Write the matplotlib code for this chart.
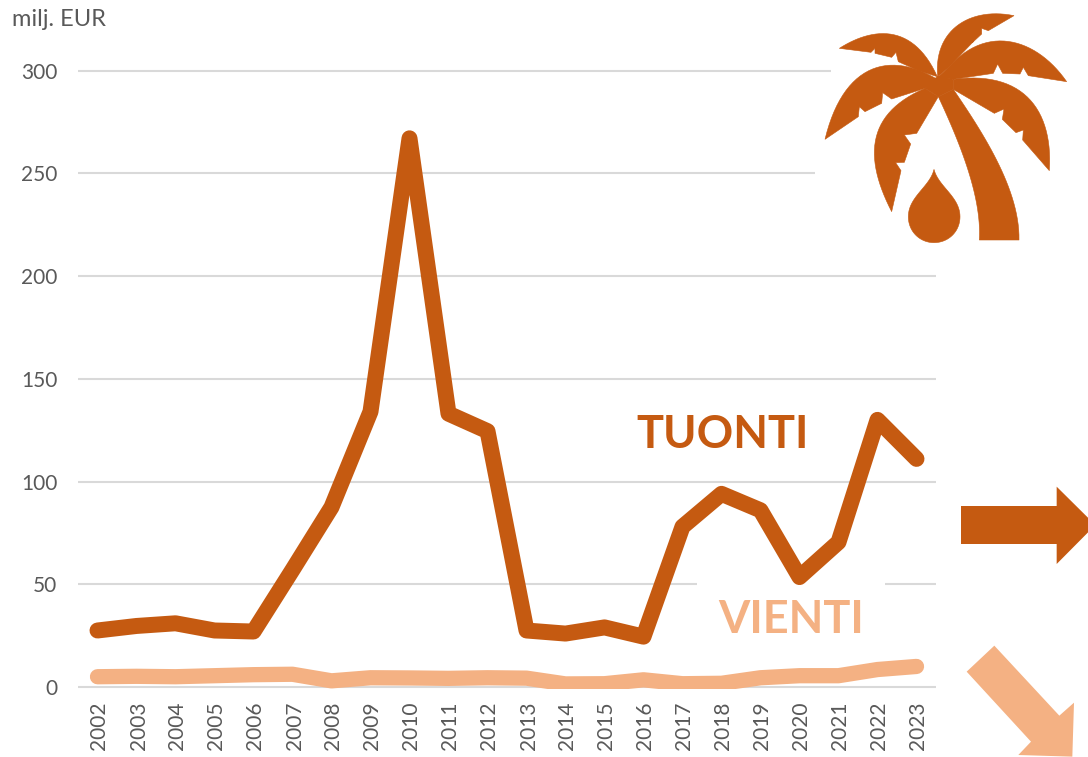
import numpy as np
import matplotlib
matplotlib.use("Agg")
import matplotlib.pyplot as plt
from matplotlib.patches import Polygon, Rectangle
from matplotlib.transforms import Affine2D, ScaledTranslation

years = [str(y) for y in range(2002, 2024)]
tuonti = [27.5, 29.7, 31, 27.5, 27, 57, 87.5, 134, 267, 133, 124.5, 27.5, 26, 29, 24.5, 78, 94, 86, 53.5, 70.5, 130, 111]
vienti = [5, 5.2, 5, 5.5, 6, 6.2, 3, 4.5, 4.4, 4.2, 4.5, 4.3, 1.5, 1.6, 3.5, 1.6, 1.8, 4.5, 5.5, 5.5, 8.5, 10]
yticks = [0, 50, 100, 150, 200, 250, 300]

DARK = "#C55A11"
LIGHT = "#F4B183"
GRID = "#D9D9D9"
TXT = "#595959"
W, H = 1088, 757

plt.rcParams["font.family"] = ["Lato", "DejaVu Sans"]
fig = plt.figure(figsize=(W / 100, H / 100), dpi=100)
ax = fig.add_axes([78 / W, 1 - 688.5 / H, (936 - 78) / W, (688.5 - 70.5) / H])
ppu = (687 - 70.5) / 300
ax.set_xlim(-0.5, 21.5)
ax.set_ylim(-1.5 / ppu, 300)
x = np.arange(len(years))

for s in ax.spines.values():
    s.set_visible(False)
ax.set_yticks(yticks)
ax.set_xticks(x)
ax.set_xticklabels(years, rotation=90)
ax.tick_params(axis="both", length=0, labelcolor=TXT)
ax.tick_params(axis="y", pad=15, labelsize=15)
ax.tick_params(axis="x", pad=9.5, labelsize=15)
ax.grid(axis="y", color=GRID, lw=1.5)
ax.grid(axis="x", visible=False)
ax.set_axisbelow(True)
for line in ax.get_ygridlines():
    line.set_clip_on(False)
    line.set_solid_capstyle("butt")
shift = ScaledTranslation(2 / 100, 0, fig.dpi_scale_trans)
for lab in ax.get_xticklabels():
    lab.set_transform(lab.get_transform() + shift)

px = Affine2D().scale(1 / W, -1 / H).translate(0, 1) + fig.transFigure

# white boxes hiding gridline parts, above the grid but below the lines
for (bx, by, bw, bh) in [(697, 575, 188, 20), (831, 60, 110, 20), (815, 165, 126, 20)]:
    ax.add_patch(Rectangle((bx, by), bw, bh, transform=px, fc="white", ec="none", zorder=2, clip_on=False))

ax.plot(x, vienti, color=LIGHT, lw=11, solid_capstyle="round", solid_joinstyle="round", zorder=3)
ax.plot(x, tuonti, color=DARK, lw=11.5, solid_capstyle="round", solid_joinstyle="round", zorder=4)

top = fig.add_axes([0, 0, 1, 1], facecolor="none")
top.set_xlim(0, W)
top.set_ylim(H, 0)
top.axis("off")
top.set_zorder(2)

top.text(12, 19, "milj. EUR", fontsize=17, color=TXT, ha="left", va="center")
top.text(723, 435, "TUONTI", fontsize=32.5, fontweight="bold", color=DARK, ha="center", va="center")
top.text(791, 620, "VIENTI", fontsize=32.5, fontweight="bold", color=LIGHT, ha="center", va="center")


def bez(p0, c1, c2, p3, n=30):
    t = np.linspace(0, 1, n)[:, None]
    p0, c1, c2, p3 = map(lambda v: np.array(v, float), (p0, c1, c2, p3))
    return (1 - t) ** 3 * p0 + 3 * (1 - t) ** 2 * t * c1 + 3 * (1 - t) * t ** 2 * c2 + t ** 3 * p3


def icon(*parts):
    pts = np.vstack([np.atleast_2d(np.array(p, float)) for p in parts]) / 3 + np.array([810, 0])
    top.add_patch(Polygon(pts, closed=True, fc=DARK, ec=DARK, lw=0.4, zorder=3))


icon(bez((88, 145), (190, 80), (310, 70), (382, 230)),
     [(325, 212), (265, 185), (258, 157), (245, 172), (195, 160), (195, 145), (183, 157)])
icon(bez((45, 418), (100, 190), (240, 150), (385, 240)),
     [(345, 265), (245, 297), (218, 278), (215, 310), (165, 335), (148, 320), (145, 350)])
icon(bez((245, 635), (160, 470), (170, 340), (345, 265)),
     [(385, 290), (320, 400), (283, 405), (302, 432), (283, 487), (257, 488), (273, 512)])
icon(bez((612, 47), (480, 20), (370, 90), (383, 230)),
     [(415, 203), (490, 125), (465, 118), (487, 128), (515, 102), (515, 85), (535, 92)])
icon(bez((770, 245), (680, 115), (530, 70), (415, 203)),
     [(383, 232), (430, 238), (550, 220), (563, 192), (578, 220), (630, 222), (640, 202), (655, 227)])
icon(bez((718, 512), (730, 330), (640, 210), (430, 238)),
     [(430, 268), (553, 340), (582, 327), (577, 358), (618, 398), (640, 390), (638, 420)])
icon([(345, 265), (383, 228), (430, 238), (430, 268), (385, 290)])
icon(bez((430, 268), (520, 400), (630, 570), (627, 720)),
     bez((508, 720), (515, 600), (460, 450), (385, 290)))
icon(bez((372, 508), (385, 560), (450, 590), (450, 650)),
     bez((450, 650), (450, 695), (415, 728), (372, 728)),
     bez((372, 728), (330, 728), (295, 695), (295, 650)),
     bez((295, 650), (295, 590), (360, 560), (372, 508)))

# arrows
arrow1 = np.array([(63, 108), (350, 108), (350, 50), (466, 165), (350, 282), (350, 222), (63, 222)], float) / 3 + [940, 470]
arrow2 = np.array([(163, 527), (358, 737), (402, 698), (397, 860), (235, 855), (273, 815), (80, 605)], float) / 3 + [940, 470]
top.add_patch(Polygon(arrow1, closed=True, fc=DARK, ec="none", zorder=3))
top.add_patch(Polygon(arrow2, closed=True, fc=LIGHT, ec="none", zorder=3))

fig.savefig("out.png", dpi=100)
